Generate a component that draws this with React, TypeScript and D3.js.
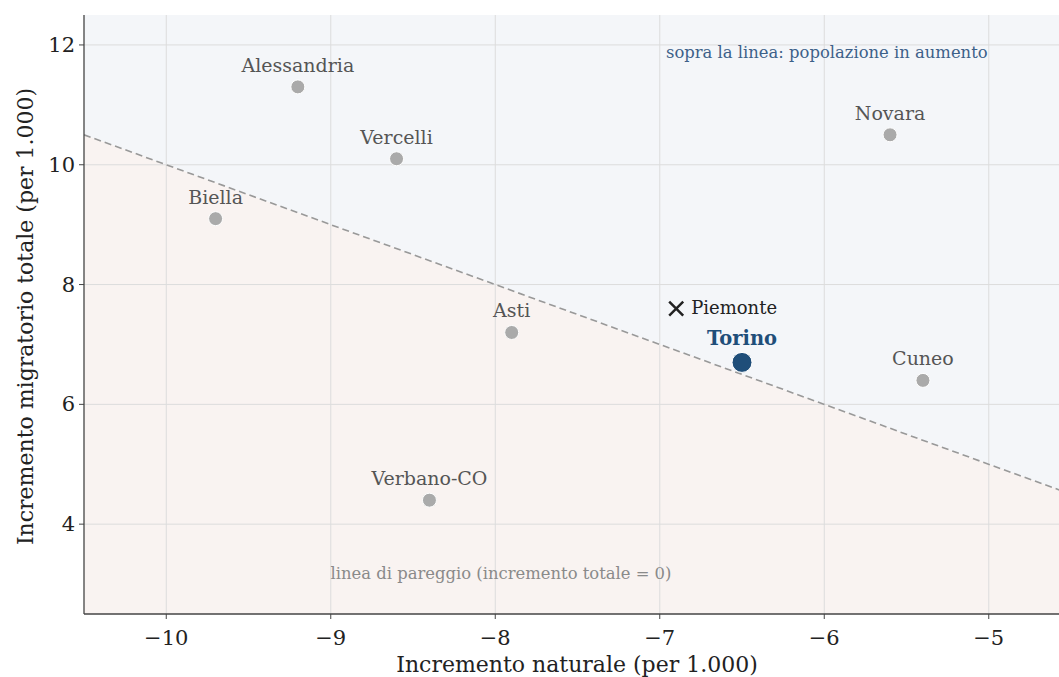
import React from "react";
import * as d3 from "d3";

const provinces = ["Alessandria", "Vercelli", "Biella", "Novara", "Asti", "Cuneo", "Verbano-CO"];
const naturalInc = [-9.2, -8.6, -9.7, -5.6, -7.9, -5.4, -8.4];
const migratoryInc = [11.3, 10.1, 9.1, 10.5, 7.2, 6.4, 4.4];
const torino = { name: "Torino", x: -6.5, y: 6.7 };
const piemonte = { name: "Piemonte", x: -6.9, y: 7.6 };
const xTicks = [-10, -9, -8, -7, -6, -5];
const yTicks = [4, 6, 8, 10, 12];
const xDomain = [-10.5, -4.5];
const yDomain = [2.5, 12.5];

const W = 1059, H = 677;
const left = 84, top = 15, bottom = 614;
const right = 1071;
const FONT = "DejaVu Serif, serif";

export default function App() {
  const x = d3.scaleLinear().domain(xDomain).range([left, right]);
  const y = d3.scaleLinear().domain(yDomain).range([bottom, top]);
  const [x0, x1] = xDomain;
  const [y0, y1] = yDomain;
  const above = [[x0, -x0], [x1, -x1], [x1, y1], [x0, y1]];
  const below = [[x0, -x0], [x1, -x1], [x1, y0], [x0, y0]];
  const poly = (pts: number[][]) => pts.map(p => `${x(p[0])},${y(p[1])}`).join(" ");
  const line = d3.line<number[]>().x(d => x(d[0])).y(d => y(d[1]));
  const s = 7;
  const px = x(piemonte.x), py = y(piemonte.y);
  return (
    <svg width={W} height={H} style={{ position: "absolute", left: 0, top: 0, background: "#fff" }} fontFamily={FONT}>
      <defs>
        <clipPath id="plot"><rect x={left} y={top} width={right - left} height={bottom - top} /></clipPath>
      </defs>
      <g clipPath="url(#plot)">
        <polygon points={poly(above)} fill="#f4f6f9" />
        <polygon points={poly(below)} fill="#f9f3f1" />
        {xTicks.map(t => <line key={t} x1={x(t)} x2={x(t)} y1={top} y2={bottom} stroke="#dcdcdc" strokeWidth={1} />)}
        {yTicks.map(t => <line key={t} x1={left} x2={right} y1={y(t)} y2={y(t)} stroke="#dcdcdc" strokeWidth={1} />)}
        <path d={line([[x0, -x0], [x1, -x1]]) || ""} stroke="#999" strokeWidth={1.6} strokeDasharray="7,4" fill="none" />
      </g>
      <line x1={left} x2={left} y1={top} y2={bottom} stroke="#444" strokeWidth={1.3} />
      <line x1={left} x2={W} y1={bottom} y2={bottom} stroke="#444" strokeWidth={1.3} />
      {xTicks.map(t => (
        <g key={t}>
          <line x1={x(t)} x2={x(t)} y1={bottom} y2={bottom + 5} stroke="#444" />
          <text x={x(t)} y={bottom + 31} textAnchor="middle" fontSize={21} fill="#222">{d3.format("")(t).replace("-", "\u2212")}</text>
        </g>
      ))}
      {yTicks.map(t => (
        <g key={t}>
          <line x1={left - 5} x2={left} y1={y(t)} y2={y(t)} stroke="#444" />
          <text x={left - 9} y={y(t) + 7} textAnchor="end" fontSize={21} fill="#222">{t}</text>
        </g>
      ))}
      <text x={577} y={672} textAnchor="middle" fontSize={22} fill="#222">Incremento naturale  (per 1.000)</text>
      <text transform={`translate(33,${(top + bottom) / 2 + 2}) rotate(-90)`} textAnchor="middle" fontSize={22} fill="#222">Incremento migratorio totale  (per 1.000)</text>

      <text x={666} y={58} fontSize={16.4} fill="#3d6189">sopra la linea: popolazione in aumento</text>
      <text x={501} y={579} textAnchor="middle" fontSize={16.4} fill="#8a8a8a">linea di pareggio (incremento totale = 0)</text>

      {provinces.map((p, i) => (
        <g key={p}>
          <circle cx={x(naturalInc[i])} cy={y(migratoryInc[i])} r={7} fill="#aaaaaa" stroke="#fff" strokeWidth={1} />
          <text x={x(naturalInc[i])} y={y(migratoryInc[i]) - 15} textAnchor="middle" fontSize={19} fill="#555">{p}</text>
        </g>
      ))}
      <circle cx={x(torino.x)} cy={y(torino.y)} r={10} fill="#1f4e79" stroke="#fff" strokeWidth={1} />
      <text x={x(torino.x)} y={y(torino.y) - 17} textAnchor="middle" fontSize={19.5} fontWeight="bold" fill="#1f4e79">{torino.name}</text>
      <path d={`M${px - s},${py - s}L${px + s},${py + s}M${px - s},${py + s}L${px + s},${py - s}`} stroke="#222" strokeWidth={2.5} />
      <text x={px + 15} y={py + 5} fontSize={18} fill="#222">{piemonte.name}</text>
    </svg>
  );
}
